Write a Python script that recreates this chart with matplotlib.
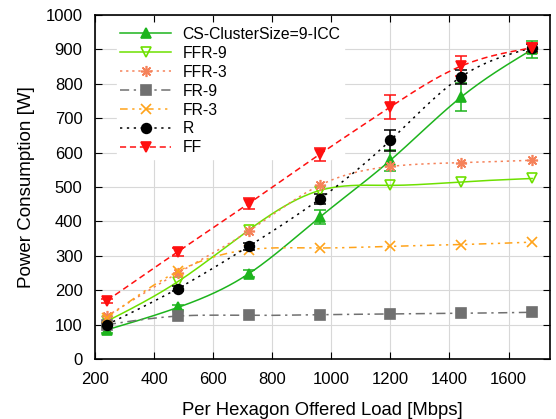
import numpy as np
import matplotlib
matplotlib.use("Agg")
import matplotlib.pyplot as plt

plt.rcParams['font.family'] = ['Liberation Sans', 'DejaVu Sans']

# offered load per hexagon [Mbps]
load = [240, 480, 720, 960, 1200, 1440, 1680]

cs_icc = [85, 150, 248, 412, 578, 762, 900]
cs_icc_err = [8, 8, 10, 20, 30, 40, 25]
ffr9 = [110, 225, 375, 490, 505, 515, 525]
ffr3 = [125, 250, 372, 505, 560, 571, 578]
fr9 = [100, 125, 127, 129, 131, 133, 136]
fr3 = [120, 255, 318, 323, 328, 333, 340]
r = [100, 205, 328, 465, 636, 821, 905]
r_err = [5, 8, 10, 15, 30, 20, 12]
ff = [170, 312, 452, 595, 733, 852, 905]
ff_err = [6, 12, 15, 20, 35, 28, 15]


def spline(x, y, n=200):
    # natural cubic spline, only used to draw a smooth line through the points
    x = np.asarray(x, float)
    y = np.asarray(y, float)
    k = len(x)
    h = np.diff(x)
    A = np.zeros((k, k))
    b = np.zeros(k)
    A[0, 0] = A[-1, -1] = 1
    for i in range(1, k - 1):
        A[i, i - 1] = h[i - 1]
        A[i, i] = 2 * (h[i - 1] + h[i])
        A[i, i + 1] = h[i]
        b[i] = 6 * ((y[i + 1] - y[i]) / h[i] - (y[i] - y[i - 1]) / h[i - 1])
    m = np.linalg.solve(A, b)
    xs = np.linspace(x[0], x[-1], n)
    j = np.clip(np.searchsorted(x, xs) - 1, 0, k - 2)
    t = xs - x[j]
    hj = h[j]
    ys = (m[j] * (x[j + 1] - xs) ** 3 / (6 * hj) + m[j + 1] * t ** 3 / (6 * hj)
          + (y[j] / hj - m[j] * hj / 6) * (x[j + 1] - xs)
          + (y[j + 1] / hj - m[j + 1] * hj / 6) * t)
    return xs, ys


fig = plt.figure(figsize=(5.56, 4.19), dpi=100)
ax = fig.add_axes([0.171, 0.143, 0.818, 0.821])

series = [
    ('CS-ClusterSize=9-ICC', cs_icc, cs_icc_err, '#1db41d', '-', '^', 'full'),
    ('FFR-9', ffr9, None, '#6ee000', '-', 'v', 'none'),
    ('FFR-3', ffr3, None, '#f5825a', (0, (1.5, 2.5)), (8, 2, 0), 'full'),
    ('FR-9', fr9, None, '#707070', (0, (6, 3, 1.5, 3)), 's', 'full'),
    ('FR-3', fr3, None, '#ffa31a', (0, (5, 3, 1.5, 3, 1.5, 3)), 'x', 'full'),
    ('R', r, r_err, 'black', (0, (1.5, 3)), 'o', 'full'),
    ('FF', ff, ff_err, '#ff1010', (0, (4, 2.5)), 'v', 'full'),
]

for label, vals, err, col, ls, mk, fill in series:
    xs, ys = spline(load, vals)
    ax.plot(xs, ys, color=col, ls=ls, lw=1.1, zorder=2)
    if err is not None:
        ax.errorbar(load, vals, yerr=err, fmt='none', ecolor=col, elinewidth=1.1,
                    capsize=4, capthick=1.1, zorder=3)
    mfc = 'none' if fill == 'none' else col
    ms = 8 if isinstance(mk, tuple) else 7
    ax.plot(load, vals, ls='none', marker=mk, color=col, mfc=mfc, mec=col,
            ms=ms, mew=1.2, zorder=4)
    # legend handle
    ax.plot([], [], color=col, ls=ls, lw=1.1, marker=mk, mfc=mfc, mec=col,
            ms=ms, mew=1.2, label=label)

ax.set_xlim(200, 1740)
ax.set_ylim(0, 1000)
ax.set_xticks(np.arange(200, 1700, 200))
ax.set_yticks(np.arange(0, 1001, 100))
ax.grid(True, color='#d8d8d8', lw=0.8)
ax.set_axisbelow(True)
ax.tick_params(direction='in', top=True, right=True, length=5, labelsize=12)
ax.tick_params(axis='x', pad=9)
ax.tick_params(axis='y', pad=9)
for s in ax.spines.values():
    s.set_linewidth(1.2)

ax.set_xlabel('Per Hexagon Offered Load [Mbps]', fontsize=13.3)
ax.set_ylabel('Power Consumption [W]', fontsize=13.5)
ax.xaxis.set_label_coords(0.5, -0.125)
ax.yaxis.set_label_coords(-0.132, 0.5)

h, l = ax.get_legend_handles_labels()
leg = ax.legend(h[-7:], l[-7:], loc='upper left', bbox_to_anchor=(0.03, 1.0),
                frameon=True, fontsize=11.3, handlelength=3.2, labelspacing=0.25,
                borderpad=0.25, handletextpad=0.75)
leg.get_frame().set_facecolor('white')
leg.get_frame().set_edgecolor('white')
leg.get_frame().set_alpha(1)
leg.set_zorder(1)  # key hides the grid but stays under the data

fig.savefig('out.png', dpi=100)
